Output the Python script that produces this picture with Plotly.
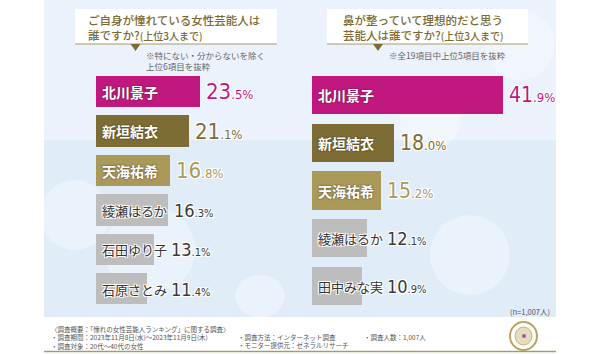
import plotly.graph_objects as go

W, H = 600, 354

left_names = ["北川景子", "新垣結衣", "天海祐希", "綾瀬はるか", "石田ゆり子", "石原さとみ"]
left_values = [23.5, 21.1, 16.8, 16.3, 13.1, 11.4]
right_names = ["北川景子", "新垣結衣", "天海祐希", "綾瀬はるか", "田中みな実"]
right_values = [41.9, 18.0, 15.2, 12.1, 10.9]

left_title = ["ご自身が憧れている女性芸能人は", "誰ですか?<span style='font-size:10px'>(上位3人まで)</span>"]
left_note = ["※特にない・分からないを除く", "上位6項目を抜粋"]
right_title = ["鼻が整っていて理想的だと思う", "芸能人は誰ですか?<span style='font-size:10px'>(上位3人まで)</span>"]
right_note = ["※全19項目中上位5項目を抜粋"]
n_note = "(n=1,007人)"
footer_col1 = ["〈調査概要：「憧れの女性芸能人ランキング」に関する調査〉",
               "・調査期間：2023年11月8日(水)～2023年11月9日(木)",
               "・調査対象：20代～40代の女性"]
footer_col2 = ["・調査方法：インターネット調査", "・モニター提供元：ゼネラルリサーチ"]
footer_col3 = ["・調査人数：1,007人"]

MAGENTA = "#c0187f"
OLIVE = "#7d6d35"
GOLD = "#a99a5a"
GRAY = "#bdbdbd"
TITLE_C = "#7a6a33"
special = {"北川景子": MAGENTA, "新垣結衣": OLIVE, "天海祐希": GOLD}

def px(x):
    return x / W

def py(y):
    return 1 - y / H

JP = "Noto Sans CJK JP"
NUM = "Liberation Sans Narrow, DejaVu Sans Condensed, Roboto"
WHITE_OUT = "-1px -1px 0 #fff, 1px -1px 0 #fff, -1px 1px 0 #fff, 1px 1px 0 #fff"
DARK_OUT = "0px 0px 2px rgba(60,40,20,0.9)"

fig = go.Figure()

shapes = []
shapes.append(dict(type="rect", xref="paper", yref="paper", x0=px(44), x1=px(556), y0=py(317), y1=py(0),
                   fillcolor="#e1ecf9", line=dict(width=0), layer="below"))
shapes.append(dict(type="rect", xref="paper", yref="paper", x0=px(44), x1=px(556), y0=py(140), y1=py(0),
                   fillcolor="rgba(255,255,255,0.35)", line=dict(width=0), layer="below"))
for cx, cy, r in [(150, 250, 45), (470, 255, 40), (430, 120, 30), (75, 215, 35), (520, 45, 35), (260, 300, 25)]:
    shapes.append(dict(type="circle", xref="paper", yref="paper", x0=px(cx - r), x1=px(cx + r),
                       y0=py(min(cy + r, 317)), y1=py(cy - r), fillcolor="rgba(255,255,255,0.3)",
                       line=dict(width=0), layer="below"))
for x0, x1, tri in [(75, 277, 135.5), (327, 528, 378)]:
    shapes.append(dict(type="rect", xref="paper", yref="paper", x0=px(x0), x1=px(x1), y0=py(44), y1=py(9),
                       fillcolor="white", line=dict(width=0)))
    shapes.append(dict(type="line", xref="paper", yref="paper", x0=px(x0), x1=px(x1), y0=py(44), y1=py(44),
                       line=dict(color="#a89a6a", width=1)))
    shapes.append(dict(type="path", xref="paper", yref="paper",
                       path=f"M {px(tri-5)} {py(44)} L {px(tri+5)} {py(44)} L {px(tri)} {py(51)} Z",
                       fillcolor="#7d6d35", line=dict(width=0)))
shapes.append(dict(type="line", xref="paper", yref="paper", x0=px(44), x1=px(556), y0=py(351.5), y1=py(351.5),
                   line=dict(color="#a89a70", width=1.5)))
# logo
shapes.append(dict(type="circle", xref="paper", yref="paper", x0=px(510), x1=px(537), y0=py(350), y1=py(322),
                   fillcolor="rgba(255,255,255,0)", line=dict(color="#b8a460", width=2)))
shapes.append(dict(type="circle", xref="paper", yref="paper", x0=px(515), x1=px(532), y0=py(345), y1=py(327),
                   fillcolor="rgba(200,180,110,0.45)", line=dict(color="#c4b070", width=1)))
shapes.append(dict(type="circle", xref="paper", yref="paper", x0=px(522), x1=px(526), y0=py(338), y1=py(334),
                   fillcolor="#9a5aa0", line=dict(width=0)))

annotations = []

def add_chart(names, values, xa, ya, ppu, fsz_big, fsz_small):
    colors = [special.get(n, GRAY) for n in names]
    fig.add_trace(go.Bar(y=names, x=values, orientation="h", marker=dict(color=colors, line=dict(width=0)),
                         width=0.8, xaxis=xa, yaxis=ya, hoverinfo="skip", showlegend=False))
    xr = "x" if xa == "x" else "x2"
    yr = "y" if ya == "y" else "y2"
    for n, v in zip(names, values):
        sp = n in special
        nsize = 14 if sp else 13
        annotations.append(dict(x=0, y=n, xref=xr, yref=yr, xanchor="left", yanchor="middle", xshift=4,
                                text=n, showarrow=False,
                                font=dict(family=JP, size=nsize, weight="bold" if sp else "normal",
                                          color="white" if sp else "#333",
                                          shadow=DARK_OUT if sp else WHITE_OUT)))
        ip = int(v)
        dp = f"{v:.1f}".split(".")[1]
        big = fsz_big if sp else 18
        small = fsz_small if sp else 11
        col = special.get(n, "#3a3a3a")
        bar_px = v * ppu
        name_end = 4 + len(n) * nsize
        shift = max(bar_px, name_end) - bar_px + 4
        annotations.append(dict(x=v, y=n, xref=xr, yref=yr, xanchor="left", yanchor="middle", xshift=shift,
                                text=f"{ip}<span style='font-size:{small}px'>.{dp}%</span>", showarrow=False,
                                font=dict(family=NUM, size=big, color=col, shadow=WHITE_OUT)))

add_chart(left_names, left_values, "x", "y", 4.43, 22, 13)
add_chart(right_names, right_values, "x2", "y2", 4.56, 21, 13)

def txt(t, x, y, size, color, anchor="left", weight="normal", family=JP, yanchor="middle"):
    annotations.append(dict(x=px(x), y=py(y), xref="paper", yref="paper", xanchor=anchor, yanchor=yanchor,
                            text=t, showarrow=False, align="left", borderpad=0,
                            font=dict(family=family, size=size, color=color, weight=weight)))

txt("<br>".join(left_title), 87, 27.5, 11.5, TITLE_C, weight=500)
txt("<br>".join(left_note), 145, 60, 8.5, "#666")
txt("<br>".join(right_title), 342, 27.5, 11.5, TITLE_C, weight=500)
txt(right_note[0], 388, 54.5, 8.5, "#666")
txt(n_note, 551, 311, 7.5, "#555", anchor="right")
txt("<br>".join(footer_col1), 50, 322.5, 6.5, "#555", yanchor="top")
txt("<br>".join(footer_col2), 237, 330.5, 6.5, "#555", yanchor="top")
txt("<br>".join(footer_col3), 363, 330.5, 6.5, "#555", yanchor="top")

fig.update_layout(
    width=W, height=H, margin=dict(l=0, r=0, t=0, b=0),
    paper_bgcolor="white", plot_bgcolor="rgba(0,0,0,0)",
    shapes=shapes, annotations=annotations, bargap=0,
    xaxis=dict(domain=[px(96), px(296)], range=[0, 200 / 4.43], visible=False, fixedrange=True),
    yaxis=dict(domain=[py(308.7), py(72.3)], range=[5.5, -0.5], visible=False, type="category", fixedrange=True),
    xaxis2=dict(domain=[px(312), px(552)], range=[0, 240 / 4.56], visible=False, anchor="y2", fixedrange=True),
    yaxis2=dict(domain=[py(309.9), py(71.1)], range=[4.5, -0.5], visible=False, type="category", anchor="x2",
                fixedrange=True),
)

fig.write_html("out.html")
